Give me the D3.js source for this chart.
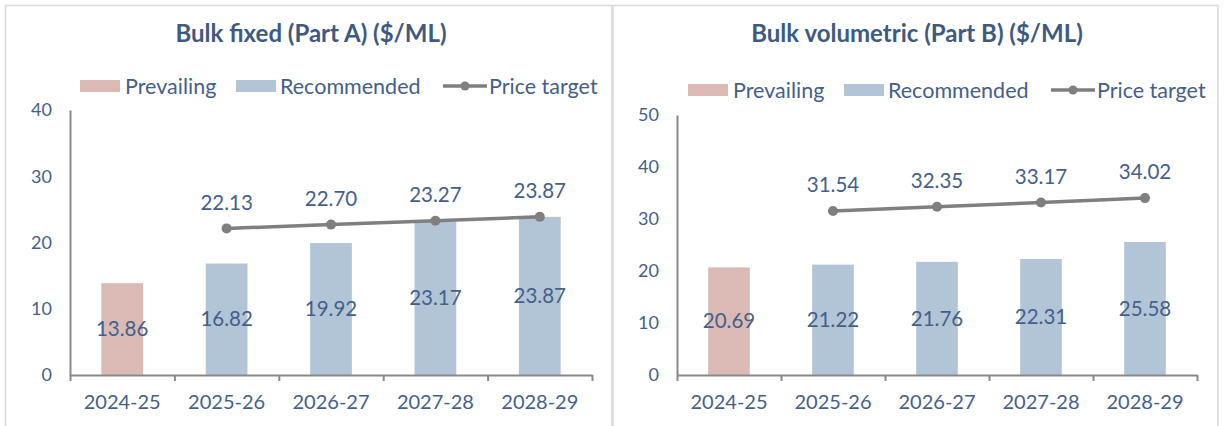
<!DOCTYPE html>
<html>
<head>
<meta charset="utf-8">
<script src="https://cdn.jsdelivr.net/npm/d3@7"></script>
<style>
  body { margin: 0; background: #fff; }
  text { font-family: Lato, "Open Sans", sans-serif; }
</style>
</head>
<body>
<svg id="chart" width="1224" height="426"></svg>
<script>
// data
const years = ["2024-25", "2025-26", "2026-27", "2027-28", "2028-29"];
const barKind = ["Prevailing", "Recommended", "Recommended", "Recommended", "Recommended"];
const fixedBars = [13.86, 16.82, 19.92, 23.17, 23.87];
const fixedTarget = [null, 22.13, 22.70, 23.27, 23.87];
const volBars = [20.69, 21.22, 21.76, 22.31, 25.58];
const volTarget = [null, 31.54, 32.35, 33.17, 34.02];
const fixedTicks = [0, 10, 20, 30, 40];
const volTicks = [0, 10, 20, 30, 40, 50];

const textCol = "#44608a";
const axisCol = "#898989";
const colours = { Prevailing: "#dbbab5", Recommended: "#b2c5d7" };
const lineCol = "#7f7f7f";

const svg = d3.select("#chart");

// panel outlines
svg.append("rect").attr("x", 5.5).attr("y", 5.5).attr("width", 606.5).attr("height", 440)
  .attr("fill", "none").attr("stroke", "#d9d9d9").attr("stroke-width", 1.5);
svg.append("rect").attr("x", 613).attr("y", 5.5).attr("width", 605).attr("height", 440)
  .attr("fill", "none").attr("stroke", "#d9d9d9").attr("stroke-width", 1.5);

function drawPanel(opt) {
  const g = svg.append("g");

  g.append("text")
    .attr("x", opt.titleX).attr("y", 42)
    .attr("text-anchor", "middle")
    .attr("font-size", 24).attr("font-weight", 700)
    .attr("fill", "#3d5a82")
    .text(opt.title);

  // legend
  const ly = opt.legendY;
  const lx = opt.legendX;
  g.append("rect").attr("x", lx).attr("y", ly - 6).attr("width", 40).attr("height", 12)
    .attr("fill", colours.Prevailing);
  g.append("text").attr("x", lx + 45).attr("y", ly).attr("dy", "0.35em")
    .attr("font-size", 21.5).attr("fill", textCol).text("Prevailing");
  g.append("rect").attr("x", lx + 156).attr("y", ly - 6).attr("width", 40).attr("height", 12)
    .attr("fill", colours.Recommended);
  g.append("text").attr("x", lx + 200).attr("y", ly).attr("dy", "0.35em")
    .attr("font-size", 21.5).attr("fill", textCol).text("Recommended");
  g.append("line").attr("x1", lx + 363).attr("x2", lx + 407).attr("y1", ly).attr("y2", ly)
    .attr("stroke", lineCol).attr("stroke-width", 3.5);
  g.append("circle").attr("cx", lx + 385).attr("cy", ly).attr("r", 4.5).attr("fill", lineCol);
  g.append("text").attr("x", lx + 409).attr("y", ly).attr("dy", "0.35em")
    .attr("font-size", 21.5).attr("fill", textCol).text("Price target");

  const x = d3.scaleBand().domain(years).range([opt.x0, opt.x1]);
  const xEdge = d3.scaleLinear().domain([0, years.length]).range([opt.x0, opt.x1]);
  const y = d3.scaleLinear().domain([0, d3.max(opt.ticks)]).range([375, opt.yTop]);

  // bars
  const bw = x.bandwidth() * 0.4;
  g.selectAll(".bar").data(opt.bars).enter().append("rect")
    .attr("x", (d, i) => x(years[i]) + (x.bandwidth() - bw) / 2)
    .attr("y", d => y(d))
    .attr("width", bw)
    .attr("height", d => y(0) - y(d))
    .attr("fill", (d, i) => colours[barKind[i]]);

  // y axis
  const ya = g.append("g").attr("transform", "translate(" + opt.x0 + ",0)")
    .call(d3.axisLeft(y).tickValues(opt.ticks).tickSize(0).tickPadding(18));
  ya.select(".domain").attr("stroke", axisCol).attr("stroke-width", 2);
  ya.selectAll("text").attr("font-size", 18).attr("fill", textCol).attr("font-family", "Lato");

  // x axis: ticks at category edges, labels at centres
  const xe = g.append("g").attr("transform", "translate(0,375)")
    .call(d3.axisBottom(xEdge).tickValues(d3.range(years.length + 1)).tickFormat("").tickSize(6).tickSizeOuter(0));
  xe.select(".domain").attr("stroke", axisCol).attr("stroke-width", 2);
  xe.selectAll(".tick line").attr("stroke", axisCol).attr("stroke-width", 2);
  const xl = g.append("g").attr("transform", "translate(0,375)")
    .call(d3.axisBottom(x).tickSize(0).tickPadding(20));
  xl.select(".domain").remove();
  xl.selectAll("text").attr("font-size", 20).attr("fill", textCol).attr("font-family", "Lato");

  // price target line
  const pts = opt.target.map((v, i) => ({ i: i, v: v })).filter(d => d.v != null);
  const line = d3.line().x(d => x(years[d.i]) + x.bandwidth() / 2).y(d => y(d.v));
  g.append("path").datum(pts).attr("d", line)
    .attr("fill", "none").attr("stroke", lineCol).attr("stroke-width", 3.5);
  g.selectAll(".pt").data(pts).enter().append("circle")
    .attr("cx", d => x(years[d.i]) + x.bandwidth() / 2)
    .attr("cy", d => y(d.v))
    .attr("r", 5).attr("fill", lineCol);

  // labels
  g.selectAll(".tl").data(pts).enter().append("text")
    .attr("x", d => x(years[d.i]) + x.bandwidth() / 2)
    .attr("y", d => y(d.v) - 26).attr("dy", "0.35em")
    .attr("text-anchor", "middle").attr("font-size", 20.5).attr("fill", textCol)
    .text(d => d.v.toFixed(2));
  g.selectAll(".bl").data(opt.bars).enter().append("text")
    .attr("x", (d, i) => x(years[i]) + x.bandwidth() / 2)
    .attr("y", d => (y(d) + y(0)) / 2).attr("dy", "0.35em")
    .attr("text-anchor", "middle").attr("font-size", 20.5).attr("fill", textCol)
    .text(d => d.toFixed(2));
}

drawPanel({ title: "Bulk fixed (Part A) ($/ML)", titleX: 311, legendX: 80, legendY: 86,
  x0: 70, x1: 592, yTop: 110, ticks: fixedTicks, bars: fixedBars, target: fixedTarget });
drawPanel({ title: "Bulk volumetric (Part B) ($/ML)", titleX: 917, legendX: 688, legendY: 90,
  x0: 677, x1: 1197, yTop: 115, ticks: volTicks, bars: volBars, target: volTarget });
</script>
</body>
</html>
